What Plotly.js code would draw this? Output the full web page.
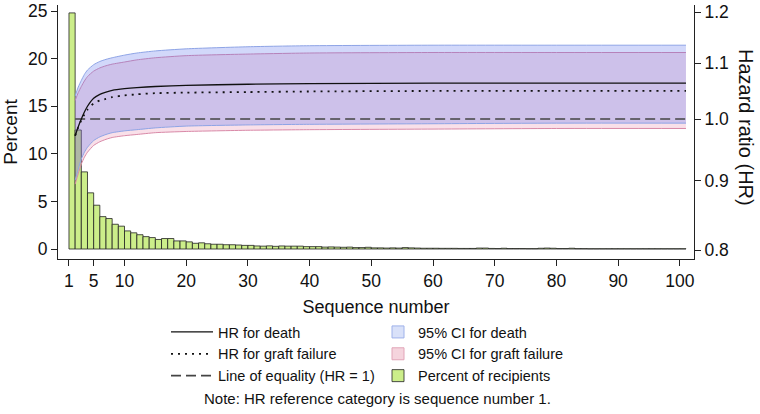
<!DOCTYPE html>
<html><head><meta charset="utf-8">
<script src="https://cdn.plot.ly/plotly-3.0.1.min.js"></script>
<style>html,body{margin:0;padding:0;background:#fff}</style>
</head><body><div id="chart" style="width:760px;height:414px"></div>
<script>
// Percent of recipients by sequence number (bins [n, n+1))
const seqNum = [];
for (let i = 1; i <= 100; i++) seqNum.push(i);
const pctRecipients = [
  24.8, 12.5, 8.1, 5.9, 4.6, 3.4, 3.2, 2.6, 2.4, 1.9,
  1.7, 1.5, 1.3, 1.2, 1.0, 1.1, 1.1, 0.85, 0.85, 0.75,
  0.6, 0.65, 0.55, 0.5, 0.5, 0.45, 0.45, 0.42, 0.38, 0.38,
  0.32, 0.3, 0.33, 0.28, 0.32, 0.3, 0.3, 0.3, 0.25, 0.25,
  0.25, 0.2, 0.22, 0.2, 0.18, 0.2, 0.15, 0.15, 0.18, 0.12,
  0.12, 0.1, 0.12, 0.1, 0.15, 0.12, 0.1, 0.08, 0.08, 0.08,
  0.07, 0.07, 0.07, 0.06, 0.06, 0.06, 0.1, 0.1, 0.06, 0.05,
  0.08, 0.05, 0.05, 0.05, 0.04, 0.04, 0.08, 0.1, 0.08, 0.05,
  0.05, 0.08, 0.04, 0.04, 0.03, 0.03, 0.03, 0.03, 0.03, 0.03,
  0.03, 0.03, 0.03, 0.03, 0.03, 0.03, 0.03, 0.03, 0.03, 0.03
];

// Hazard ratio curves (reference: sequence number 1)
const curveX    = [2, 2.5, 3, 3.5, 4, 5, 6, 7, 8, 10, 12, 15, 20, 30, 40, 60, 80, 101];
const hrDeath   = [0.972, 0.987, 1.000, 1.012, 1.022, 1.036, 1.043, 1.047, 1.050, 1.053, 1.055, 1.057, 1.059, 1.061, 1.062, 1.063, 1.063, 1.063];
const hrGraft   = [0.972, 0.986, 0.998, 1.008, 1.016, 1.027, 1.032, 1.035, 1.038, 1.041, 1.043, 1.045, 1.046, 1.047, 1.048, 1.049, 1.049, 1.049];
const ciDeathHi = [1.040, 1.056, 1.068, 1.079, 1.087, 1.097, 1.103, 1.107, 1.110, 1.115, 1.119, 1.123, 1.127, 1.131, 1.133, 1.134, 1.134, 1.134];
const ciDeathLo = [0.901, 0.918, 0.934, 0.945, 0.953, 0.964, 0.970, 0.974, 0.977, 0.980, 0.982, 0.985, 0.988, 0.990, 0.991, 0.992, 0.993, 0.993];
const ciGraftHi = [1.032, 1.046, 1.057, 1.067, 1.075, 1.085, 1.091, 1.095, 1.098, 1.102, 1.106, 1.110, 1.114, 1.117, 1.119, 1.120, 1.120, 1.120];
const ciGraftLo = [0.895, 0.911, 0.926, 0.937, 0.945, 0.956, 0.962, 0.966, 0.969, 0.972, 0.974, 0.977, 0.979, 0.981, 0.982, 0.983, 0.984, 0.984];
const eqX = [2, 101];
const eqY = [1, 1];

const xTicks = [1, 5, 10, 20, 30, 40, 50, 60, 70, 80, 90, 100];
const yTicks = [0, 5, 10, 15, 20, 25];
const y2Ticks = [0.8, 0.9, 1.0, 1.1, 1.2];
const y2TickText = ['0.8', '0.9', '1.0', '1.1', '1.2'];

const FONT = 'Liberation Sans, Arial, Helvetica, sans-serif';
const blueLine = '#8ea4e6', blueFill = 'rgba(90,110,235,0.27)';
const pinkLine = '#d98aa8', pinkFill = 'rgba(225,110,150,0.21)';
const green = '#ccee8a';

const common = {xaxis: 'x', yaxis: 'y2', mode: 'lines', hoverinfo: 'skip'};
const sp = {shape: 'spline', smoothing: 0.6};
const data = [
  {type: 'bar', x: seqNum, y: pctRecipients, offset: 0, width: 1,
   marker: {color: green, line: {color: '#222', width: 0.8}},
   name: 'Percent of recipients', legend: 'legend2', legendrank: 3, hoverinfo: 'skip'},
  {type: 'bar', x: [null], y: [null], name: '95% CI for death', legend: 'legend2', legendrank: 1,
   marker: {color: '#d9e1f9', line: {color: '#9fb2ea', width: 1}}},
  {type: 'bar', x: [null], y: [null], name: '95% CI for graft failure', legend: 'legend2', legendrank: 2,
   marker: {color: '#f5d4dd', line: {color: '#e2a5b8', width: 1}}},
  Object.assign({type: 'scatter', x: curveX, y: ciGraftHi, line: Object.assign({color: pinkLine, width: 1}, sp), showlegend: false}, common),
  Object.assign({type: 'scatter', x: curveX, y: ciGraftLo, fill: 'tonexty', fillcolor: pinkFill, line: Object.assign({color: pinkLine, width: 1}, sp), showlegend: false}, common),
  Object.assign({type: 'scatter', x: curveX, y: ciDeathHi, line: Object.assign({color: blueLine, width: 1}, sp), showlegend: false}, common),
  Object.assign({type: 'scatter', x: curveX, y: ciDeathLo, fill: 'tonexty', fillcolor: blueFill, line: Object.assign({color: blueLine, width: 1}, sp), showlegend: false}, common),
  Object.assign({type: 'scatter', x: eqX, y: eqY, name: 'Line of equality (HR = 1)', legend: 'legend', legendrank: 3, line: {color: '#444', width: 1.6, dash: '10px,5px'}}, common),
  Object.assign({type: 'scatter', x: curveX, y: hrGraft, name: 'HR for graft failure', legend: 'legend', legendrank: 2, line: Object.assign({color: '#111', width: 1.8, dash: '2px,5px'}, sp)}, common),
  Object.assign({type: 'scatter', x: curveX, y: hrDeath, name: 'HR for death', legend: 'legend', legendrank: 1, line: Object.assign({color: '#111', width: 1.3}, sp)}, common)
];

const L = 58, R = 694, T = 5, B = 259;
const pw = R - L, ph = B - T;
const px = v => (v - L) / pw;
const py = v => (B - v) / ph;

const layout = {
  width: 760, height: 414,
  margin: {l: L, r: 760 - R, t: T, b: 414 - B, pad: 0},
  paper_bgcolor: '#fff', plot_bgcolor: '#fff',
  font: {family: FONT, size: 17, color: '#111'},
  barmode: 'overlay', bargap: 0,
  showlegend: true,
  xaxis: {range: [-0.78, 102.3], tickvals: xTicks, ticks: 'outside', ticklen: 6, tickcolor: '#222',
          showline: true, linecolor: '#222', linewidth: 1, showgrid: false, zeroline: false,
          tickfont: {size: 17.5}, title: {text: 'Sequence number', font: {size: 18}, standoff: 10}},
  yaxis: {range: [-1.05, 25.63], tickvals: yTicks, ticks: 'outside', ticklen: 6, tickcolor: '#222',
          showline: true, linecolor: '#222', linewidth: 1, showgrid: false, zeroline: false,
          tickfont: {size: 17.5}, title: {text: 'Percent', font: {size: 19}, standoff: 8}},
  yaxis2: {type: 'log', overlaying: 'y', side: 'right', range: [-0.10357, 0.08436],
           tickvals: y2Ticks, ticktext: y2TickText, ticks: 'outside', ticklen: 6, tickcolor: '#222',
           showline: true, linecolor: '#222', linewidth: 1, showgrid: false, zeroline: false,
           tickfont: {size: 17.5}},
  legend: {x: px(166), y: py(316), xanchor: 'left', yanchor: 'top', orientation: 'v', itemwidth: 42,
           bgcolor: 'rgba(0,0,0,0)', borderwidth: 0, font: {size: 14.5, family: FONT}, traceorder: 'normal'},
  legend2: {x: px(378), y: py(316), xanchor: 'left', yanchor: 'top', orientation: 'v',
            bgcolor: 'rgba(0,0,0,0)', borderwidth: 0, font: {size: 14.5, family: FONT}, traceorder: 'normal'},
  annotations: [
    {text: 'Hazard ratio (HR)', xref: 'paper', yref: 'paper', x: px(746), y: py(127), textangle: 90,
     showarrow: false, font: {size: 20, family: FONT}, xanchor: 'center', yanchor: 'middle'},
    {text: 'Note: HR reference category is sequence number 1.', xref: 'paper', yref: 'paper',
     x: px(377), y: py(398), showarrow: false, font: {size: 15, family: FONT}, xanchor: 'center', yanchor: 'middle'}
  ]
};

Plotly.newPlot('chart', data, layout, {displayModeBar: false, staticPlot: true});
</script>
</body></html>
